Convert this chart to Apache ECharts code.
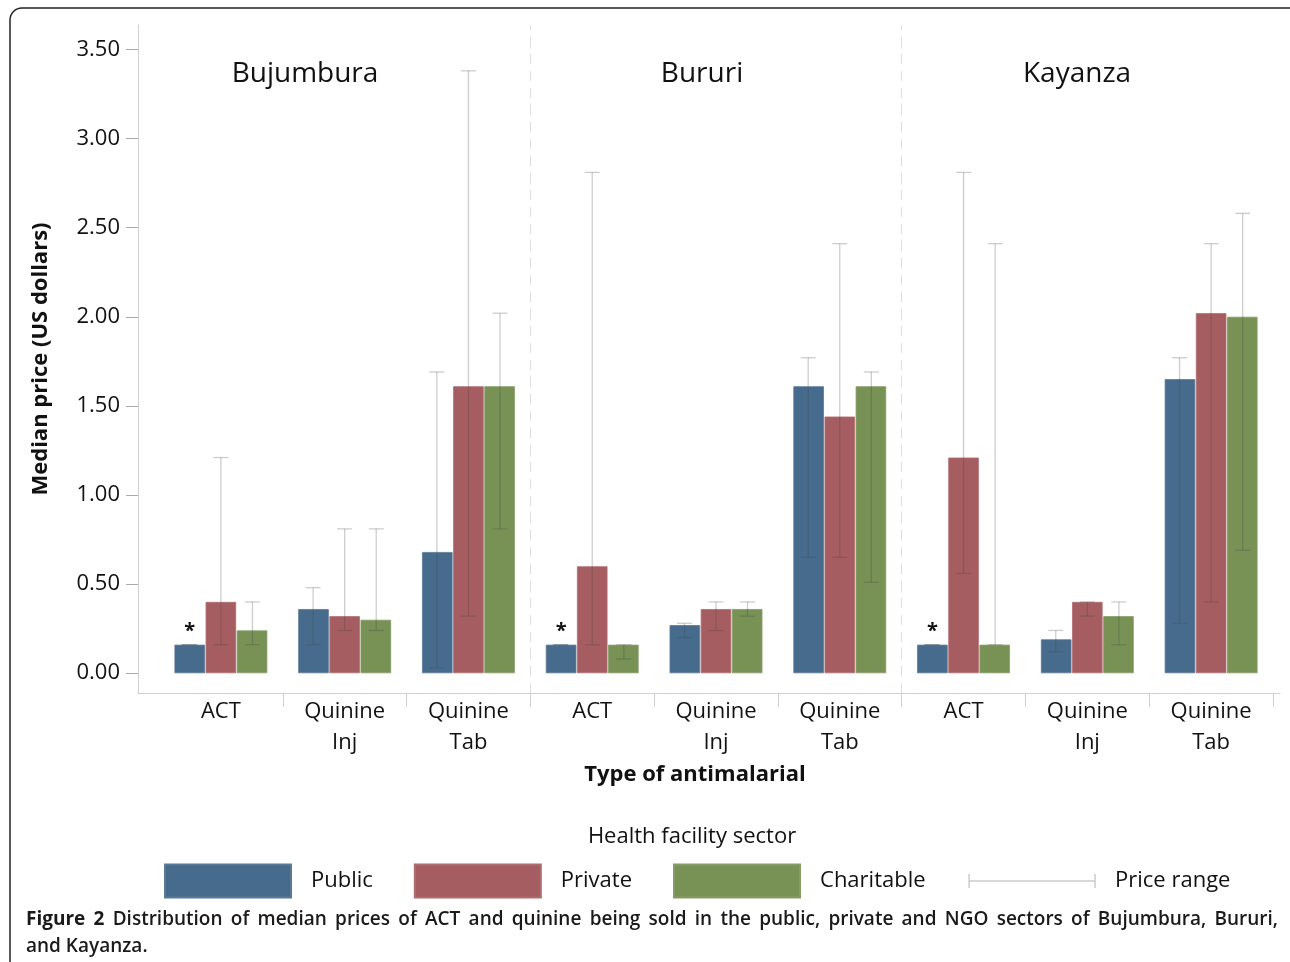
<!DOCTYPE html>
<html>
<head>
<meta charset="utf-8">
<script src="https://cdn.jsdelivr.net/npm/echarts@6/dist/echarts.min.js"></script>
<style>
html,body{margin:0;padding:0;background:#fff;}
#chart{width:1290px;height:962px;}
</style>
</head>
<body>
<div id="chart"></div>
<script>
const categories = ['ACT','Quinine\nInj','Quinine\nTab','ACT','Quinine\nInj','Quinine\nTab','ACT','Quinine\nInj','Quinine\nTab'];
const regions = ['Bujumbura','Bururi','Kayanza'];
const sectors = ['Public','Private','Charitable'];
const yTicks = [0,0.5,1,1.5,2,2.5,3,3.5];
const categoryBoundaries = [1,2,3,4,5,6,7,8,9];
const regionBoundaries = [3,6];

const publicMedian     = [0.16,0.36,0.68, 0.16,0.27,1.61, 0.16,0.19,1.65];
const privateMedian    = [0.40,0.32,1.61, 0.60,0.36,1.44, 1.21,0.40,2.02];
const charitableMedian = [0.24,0.30,1.61, 0.16,0.36,1.61, 0.16,0.32,2.00];

const publicLow      = [0.16,0.16,0.03, 0.16,0.20,0.65, 0.16,0.12,0.28];
const publicHigh     = [0.16,0.48,1.69, 0.16,0.28,1.77, 0.16,0.24,1.77];
const privateLow     = [0.16,0.24,0.32, 0.16,0.24,0.65, 0.56,0.32,0.40];
const privateHigh    = [1.21,0.81,3.38, 2.81,0.40,2.41, 2.81,0.40,2.41];
const charitableLow  = [0.16,0.24,0.81, 0.08,0.32,0.51, 0.16,0.16,0.69];
const charitableHigh = [0.40,0.81,2.02, 0.16,0.40,1.69, 2.41,0.40,2.58];

const publicNote = ['*','','','*','','','*','',''];

const captionLine1 = 'Figure 2 Distribution of median prices of ACT and quinine being sold in the public, private and NGO sectors of Bujumbura, Bururi,';
const captionLine2 = 'and Kayanza.';

const colors = ['#476b8c','#a65d61','#789155'];
const FONT = '"Open Sans", "Noto Sans", sans-serif';
const Y_MIN = -0.111, Y_MAX = 3.637;

const medians = [publicMedian, privateMedian, charitableMedian];
const lows = [publicLow, privateLow, charitableLow];
const highs = [publicHigh, privateHigh, charitableHigh];

const rangeData = [];
for (let k = 0; k < 3; k++) {
  for (let i = 0; i < categories.length; i++) {
    rangeData.push([i, k, lows[k][i], highs[k][i]]);
  }
}

// justified caption line
const CAP_SIZE = 19;
const capFontBold = 'bold ' + CAP_SIZE + 'px ' + FONT;
const capFontSemi = '600 ' + CAP_SIZE + 'px ' + FONT;
const mctx = document.createElement('canvas').getContext('2d');
const words = captionLine1.split(' ');
const wordFonts = words.map((w, i) => i < 2 ? capFontBold : capFontSemi);
const widths = words.map((w, i) => { mctx.font = wordFonts[i]; return mctx.measureText(w).width; });
const capLeft = 26, capRight = 1278;
const totalW = widths.reduce((a, b) => a + b, 0);
const gap = (capRight - capLeft - totalW) / (words.length - 1);
const captionGraphics = [];
let cx = capLeft;
words.forEach((w, i) => {
  captionGraphics.push({type: 'text', x: cx, y: 920, style: {text: w, font: wordFonts[i], fill: '#1a1a1a', textVerticalAlign: 'middle'}});
  cx += widths[i] + gap;
});
captionGraphics.push({type: 'text', x: capLeft, y: 947, style: {text: captionLine2, font: capFontSemi, fill: '#1a1a1a', textVerticalAlign: 'middle'}});

const chart = echarts.init(document.getElementById('chart'));

const barSeries = sectors.map((name, k) => ({
  name: name,
  type: 'bar',
  xAxisIndex: 0, yAxisIndex: 0,
  barGap: '2%',
  barCategoryGap: '25%',
  itemStyle: {color: colors[k], borderColor: echarts.color.lift(colors[k], 0.1), borderWidth: 0.8},
  emphasis: {disabled: true},
  data: medians[k].map((v, i) => {
    if (k === 0 && publicNote[i]) {
      return {value: v, label: {show: true, position: 'top', distance: 3, formatter: publicNote[i], fontSize: 20, fontWeight: 'bold', color: '#111', fontFamily: FONT}};
    }
    return v;
  })
}));

// frame grid x-axis is expressed in category-band units so the dividers line up with the data grid
const DATA_LEFT = 159, DATA_RIGHT = 17, FRAME_LEFT = 138, FRAME_RIGHT = 10;
const bandW = (1290 - DATA_LEFT - DATA_RIGHT) / categories.length;
const frameMin = (FRAME_LEFT - DATA_LEFT) / bandW;
const frameMax = (1290 - FRAME_RIGHT - DATA_LEFT) / bandW;

const option = {
  backgroundColor: '#fff',
  animation: false,
  grid: [
    {left: DATA_LEFT, right: DATA_RIGHT, top: 25, bottom: 269},
    {left: FRAME_LEFT, right: FRAME_RIGHT, top: 25, bottom: 269}
  ],
  xAxis: [
    {
      type: 'category', gridIndex: 0, data: categories,
      axisLine: {show: false, onZero: false},
      axisTick: {show: false},
      axisLabel: {interval: 0, fontFamily: FONT, fontSize: 22, color: '#111', lineHeight: 31, margin: 3},
      splitLine: {show: false}
    },
    {
      type: 'value', gridIndex: 1, min: frameMin, max: frameMax,
      axisLine: {show: true, onZero: false, lineStyle: {color: '#cfcfcf'}},
      axisTick: {show: true, length: 14, customValues: categoryBoundaries, lineStyle: {color: '#cfcfcf'}},
      axisLabel: {show: false}, splitLine: {show: false}
    }
  ],
  yAxis: [
    {
      type: 'value', gridIndex: 0, min: Y_MIN, max: Y_MAX,
      axisLine: {show: false}, axisTick: {show: false}, axisLabel: {show: false}, splitLine: {show: false}
    },
    {
      type: 'value', gridIndex: 1, min: Y_MIN, max: Y_MAX,
      name: 'Median price (US dollars)', nameLocation: 'middle', nameRotate: 90, nameGap: 86,
      nameTextStyle: {fontFamily: FONT, fontSize: 22, fontWeight: 'bold', color: '#111'},
      axisLine: {show: true, onZero: false, lineStyle: {color: '#cfcfcf'}},
      axisTick: {show: true, length: 12, customValues: yTicks, lineStyle: {color: '#aaa'}},
      axisLabel: {customValues: yTicks, fontFamily: FONT, fontSize: 22, color: '#111', margin: 18,
        formatter: function (v) { return v.toFixed(2); }},
      splitLine: {show: false}
    }
  ],
  legend: {
    left: 164, top: 862, padding: 0,
    itemWidth: 126, itemHeight: 33, itemGap: 41,
    textStyle: {fontFamily: FONT, fontSize: 22, color: '#111', padding: [0, 0, 0, 15]},
    selectedMode: false,
    data: [
      {name: 'Public', icon: 'rect'},
      {name: 'Private', icon: 'rect'},
      {name: 'Charitable', icon: 'rect'},
      {name: 'Price range', icon: 'path://M0,9.5L0,23.5M0,16.5L126,16.5M126,9.5L126,23.5M63,0L63,0.01M63,33L63,33.01',
        itemStyle: {color: 'none', borderColor: '#cccccc', borderWidth: 1.5}}
    ]
  },
  series: barSeries.concat([{
    name: 'Price range',
    type: 'custom',
    xAxisIndex: 0, yAxisIndex: 0,
    z: 5,
    itemStyle: {color: '#c8c8c8'},
    encode: {x: 0, y: [2, 3]},
    data: rangeData,
    renderItem: function (params, api) {
      const cat = api.value(0), k = api.value(1), lo = api.value(2), hi = api.value(3);
      const band = api.size([1, 0])[0];
      const bw = band * 0.25;
      const x = api.coord([cat, 0])[0] + (k - 1) * bw * 1.02;
      const yl = api.coord([cat, lo])[1];
      const yh = api.coord([cat, hi])[1];
      const w = 7.5;
      const st = {stroke: 'rgba(70,70,70,0.27)', lineWidth: 1.3, fill: null};
      return {
        type: 'group',
        children: [
          {type: 'line', shape: {x1: x, y1: yh, x2: x, y2: yl}, style: st},
          {type: 'line', shape: {x1: x - w, y1: yh, x2: x + w, y2: yh}, style: st},
          {type: 'line', shape: {x1: x - w, y1: yl, x2: x + w, y2: yl}, style: st}
        ]
      };
    }
  }, {
    name: 'dividers',
    type: 'line',
    xAxisIndex: 1, yAxisIndex: 1,
    data: [],
    silent: true,
    markLine: {
      symbol: 'none', silent: true, label: {show: false},
      lineStyle: {color: '#dedede', type: [10, 7], width: 1},
      data: regionBoundaries.map(b => ({xAxis: b}))
    }
  }]),
  graphic: [
    {type: 'rect', shape: {x: 10, y: 8, width: 1320, height: 1000, r: 12}, style: {fill: 'none', stroke: '#222', lineWidth: 1.5}, silent: true, z: 100},
    {type: 'text', x: 305, y: 74, style: {text: regions[0], font: '28px ' + FONT, fill: '#111', textAlign: 'center', textVerticalAlign: 'middle'}},
    {type: 'text', x: 702, y: 74, style: {text: regions[1], font: '28px ' + FONT, fill: '#111', textAlign: 'center', textVerticalAlign: 'middle'}},
    {type: 'text', x: 1077, y: 74, style: {text: regions[2], font: '28px ' + FONT, fill: '#111', textAlign: 'center', textVerticalAlign: 'middle'}},
    {type: 'text', x: 695, y: 775, style: {text: 'Type of antimalarial', font: 'bold 22px ' + FONT, fill: '#111', textAlign: 'center', textVerticalAlign: 'middle'}},
    {type: 'text', x: 692, y: 837, style: {text: 'Health facility sector', font: '22px ' + FONT, fill: '#111', textAlign: 'center', textVerticalAlign: 'middle'}}
  ].concat(captionGraphics)
};
chart.setOption(option);
</script>
</body>
</html>
